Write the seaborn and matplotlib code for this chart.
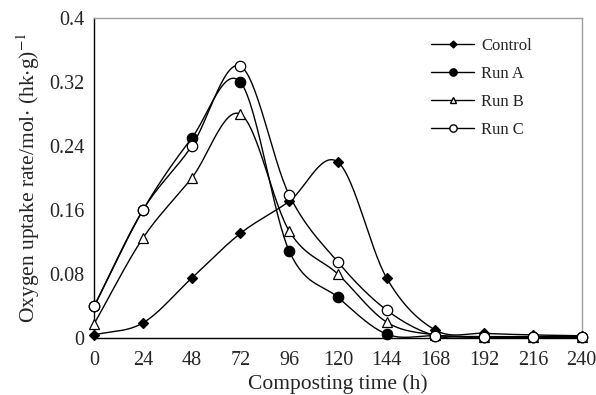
import numpy as np
import pandas as pd
import matplotlib
matplotlib.use("Agg")
import matplotlib.pyplot as plt
from matplotlib.lines import Line2D
import seaborn as sns

hours = [0, 24, 48, 72, 96, 120, 144, 168, 192, 216, 240]
control = [0.004, 0.019, 0.075, 0.131, 0.171, 0.220, 0.075, 0.010, 0.006, 0.004, 0.003]
run_a = [0.040, 0.160, 0.250, 0.320, 0.109, 0.051, 0.005, 0.003, 0.001, 0.001, 0.001]
run_b = [0.018, 0.125, 0.200, 0.280, 0.134, 0.080, 0.020, 0.004, 0.002, 0.002, 0.002]
run_c = [0.040, 0.160, 0.240, 0.340, 0.179, 0.095, 0.035, 0.003, 0.001, 0.001, 0.001]
series_names = ["Control", "Run A", "Run B", "Run C"]
y_ticks = [0, 0.08, 0.16, 0.24, 0.32, 0.4]
y_tick_labels = ["0", "0.08", "0.16", "0.24", "0.32", "0.4"]


def smooth_curve(x, y, n=30):
    """Catmull-Rom spline through the points, as a smoothed line."""
    x = np.asarray(x, float)
    y = np.asarray(y, float)
    px = np.concatenate([[2 * x[0] - x[1]], x, [2 * x[-1] - x[-2]]])
    py = np.concatenate([[2 * y[0] - y[1]], y, [2 * y[-1] - y[-2]]])
    xs, ys = [], []
    t = np.linspace(0, 1, n, endpoint=False)
    for i in range(1, len(px) - 2):
        for p, out in ((px, xs), (py, ys)):
            p0, p1, p2, p3 = p[i - 1], p[i], p[i + 1], p[i + 2]
            out.append(0.5 * (2 * p1 + (-p0 + p2) * t
                              + (2 * p0 - 5 * p1 + 4 * p2 - p3) * t ** 2
                              + (-p0 + 3 * p1 - 3 * p2 + p3) * t ** 3))
    xs.append([x[-1]])
    ys.append([y[-1]])
    return np.concatenate(xs), np.concatenate(ys)


sns.set_style("white")
plt.rcParams["font.family"] = ["Liberation Serif", "DejaVu Serif"]
plt.rcParams["mathtext.fontset"] = "stix"

fig = plt.figure(figsize=(5.96, 3.95), dpi=100)
ax = fig.add_axes([0.158, 0.144, 0.818, 0.810])

styles = {
    "Control": dict(marker="D", ms=5, mfc="black", mec="black"),
    "Run A": dict(marker="o", ms=7.5, mfc="black", mec="black"),
    "Run B": dict(marker="^", ms=7, mfc="white", mec="black"),
    "Run C": dict(marker="o", ms=7.5, mfc="white", mec="black"),
}
values = {"Control": control, "Run A": run_a, "Run B": run_b, "Run C": run_c}

frames = []
for name in series_names:
    sx, sy = smooth_curve(hours, values[name])
    frames.append(pd.DataFrame({"h": sx, "rate": sy, "series": name}))
curves = pd.concat(frames, ignore_index=True)
sns.lineplot(data=curves, x="h", y="rate", units="series", estimator=None,
             color="black", lw=1.0, ax=ax, legend=False, sort=False)

for name in series_names:
    st = styles[name]
    ax.plot(hours, values[name], ls="none", marker=st["marker"], ms=st["ms"],
            mfc=st["mfc"], mec=st["mec"], mew=0.9, clip_on=False, zorder=4)

ax.set_xlim(0, 240)
ax.set_ylim(0, 0.4)
ax.set_xticks(hours)
ax.set_yticks(y_ticks)
ax.set_yticklabels(y_tick_labels)
ax.tick_params(axis="both", direction="inout", length=10, width=1.0,
               labelsize=14.5, color="black")
ax.tick_params(axis="x", pad=4)
ax.tick_params(axis="y", pad=2)

for side in ("left", "bottom"):
    ax.spines[side].set_color("black")
    ax.spines[side].set_linewidth(1.0)
for side in ("top", "right"):
    ax.spines[side].set_color("#a0a0a0")
    ax.spines[side].set_linewidth(1.0)

ax.set_xlabel("Composting time (h)", fontsize=15.5, labelpad=3)
ax.set_ylabel(r"Oxygen uptake rate/mol$\cdot$ (hk$\cdot$g)$^{-1}$", fontsize=15.5, labelpad=5)

handles = [Line2D([], [], color="black", lw=1.0, marker=styles[n]["marker"],
                  ms=styles[n]["ms"] * 0.7, mfc=styles[n]["mfc"], mec=styles[n]["mec"])
           for n in series_names]
ax.legend(handles, series_names, loc="upper left", bbox_to_anchor=(0.66, 0.985),
          frameon=False, fontsize=12, handlelength=2.6, labelspacing=0.72,
          handletextpad=0.4)

fig.savefig("out.png", dpi=100)
